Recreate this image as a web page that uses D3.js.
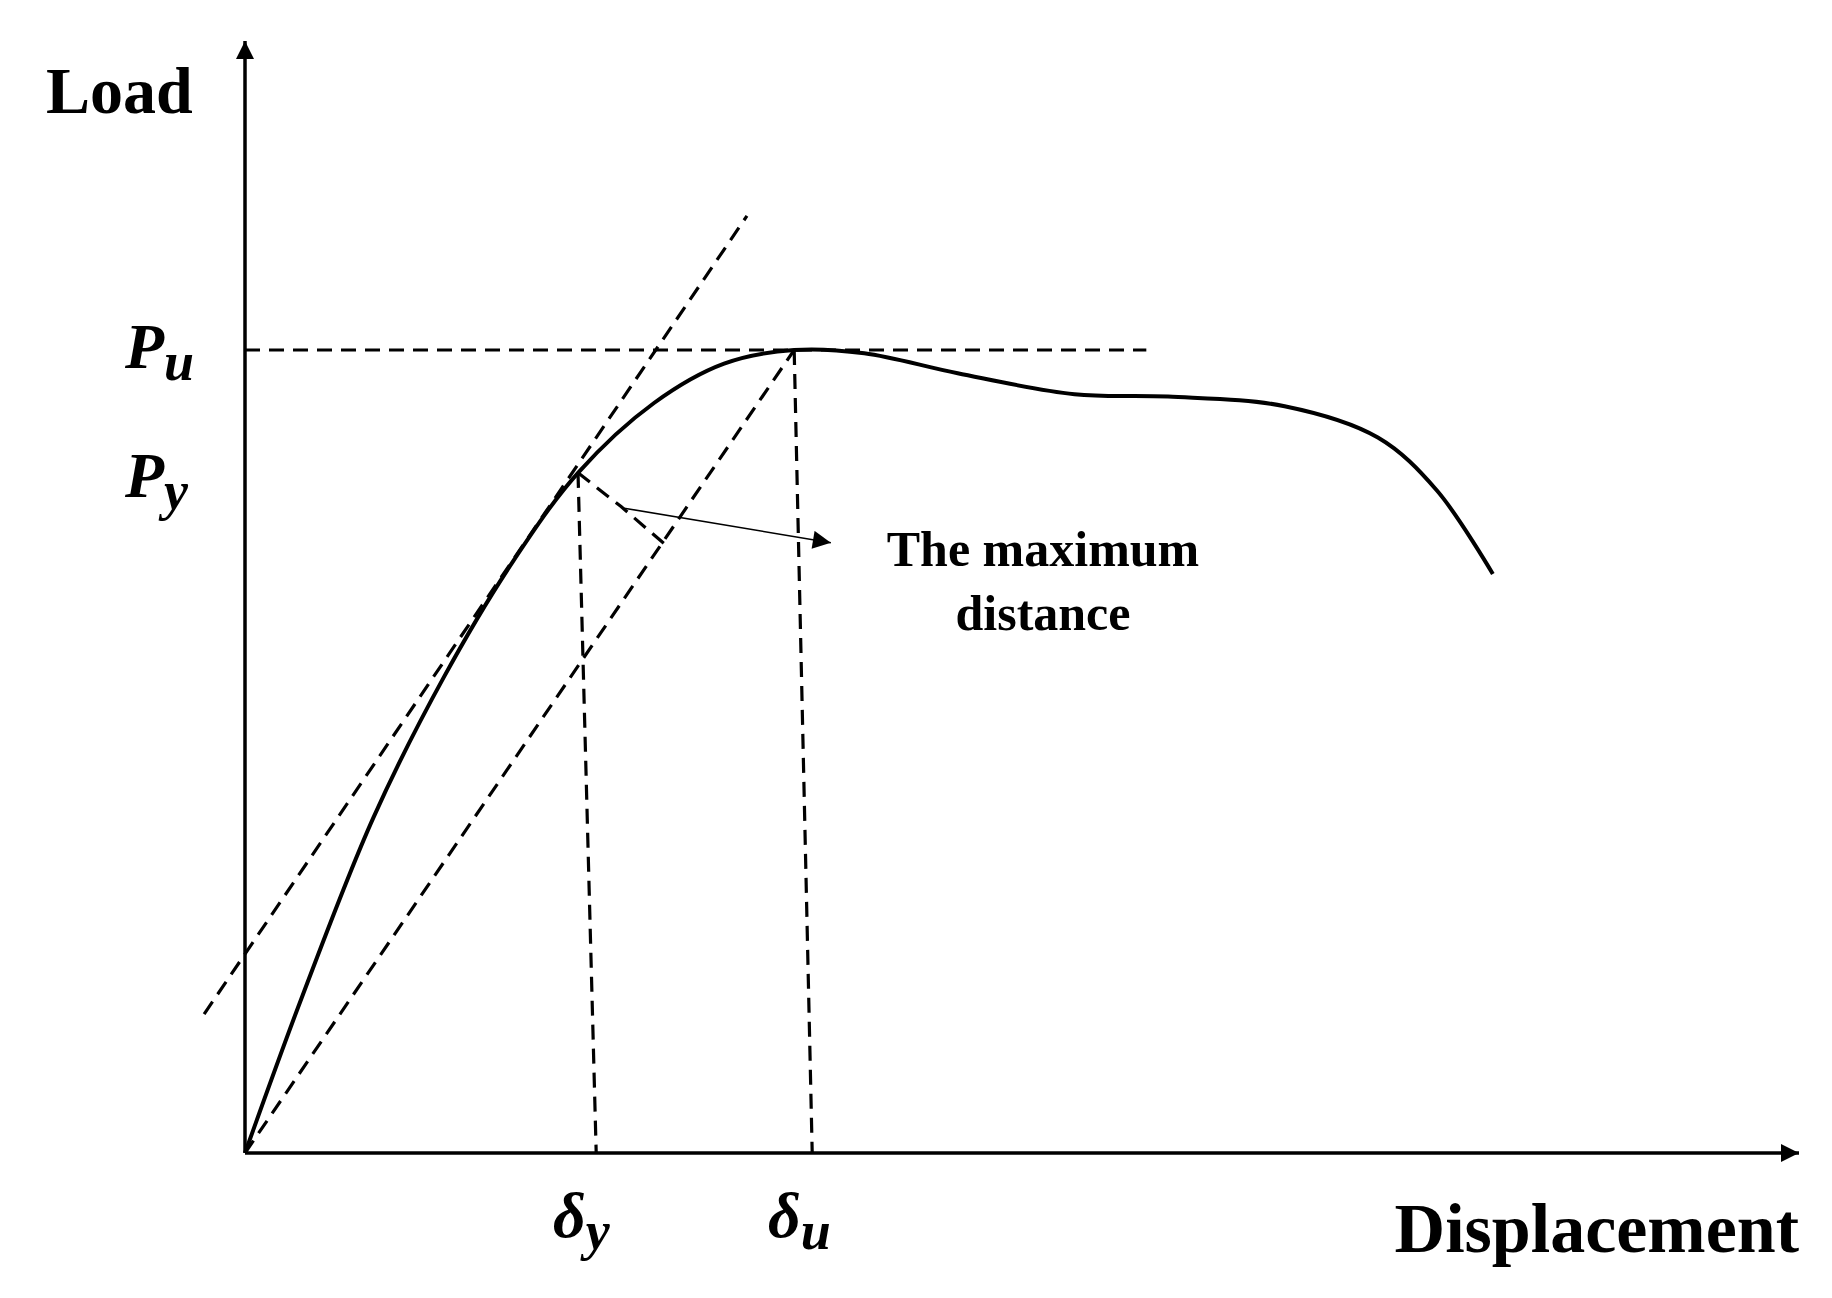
<!DOCTYPE html>
<html><head><meta charset="utf-8">
<script src="https://cdn.jsdelivr.net/npm/d3@7"></script>
<style>body{margin:0;background:#fff}text{font-family:"Liberation Serif","Times New Roman",serif;font-weight:bold}</style>
</head><body><svg id="c" width="1832" height="1298"></svg>
<script>
// displacement / load (load normalised: Pu = 100)
const curveX = [0, 3.76, 8.27, 12.78, 17.29, 21.43, 26.32, 30.83, 35.34, 39.85, 45.86, 53.38, 59.4, 66.9, 72.9, 76.7, 80.3];
const curveY = [0, 19.9, 41.8, 59.2, 73.8, 84.7, 93.4, 98.3, 100, 99.6, 97.1, 94.5, 94.2, 93.0, 89.1, 82.5, 72.1];
const tangentLine = [[-2.63, 17.3], [32.3, 116.7]];
const secantLine = [[0, 0], [35.34, 100]];
const puLine = [[0, 100], [58, 100]];
const dyLine = [[21.43, 84.7], [22.6, 0]];
const duLine = [[35.34, 100], [36.5, 0]];
const perpLine = [[21.43, 84.7], [24.2, 80.5], [27.2, 75.5]];
const arrowLine = [[24.4, 80.3], [37.7, 76.0]];

const svg = d3.select("#c");
const x = d3.scaleLinear().domain([0, 100]).range([245, 1799]);
const y = d3.scaleLinear().domain([0, 100]).range([1153, 350]);
const line = d3.line().x(d => x(d[0])).y(d => y(d[1]));

const defs = svg.append("defs");
defs.append("marker").attr("id","ah2").attr("viewBox","0 0 10 10").attr("refX",10).attr("refY",5)
  .attr("markerWidth",22).attr("markerHeight",18).attr("markerUnits","userSpaceOnUse").attr("orient","auto")
  .append("path").attr("d","M0,0L10,5L0,10Z").attr("fill","#000");

// axes
svg.append("line").attr("x1",x(0)).attr("y1",y(0)).attr("x2",x(0)).attr("y2",41)
  .attr("stroke","#000").attr("stroke-width",3.5).attr("marker-end","url(#ah2)");
svg.append("line").attr("x1",x(0)).attr("y1",y(0)).attr("x2",x(100)).attr("y2",y(0))
  .attr("stroke","#000").attr("stroke-width",3.5).attr("marker-end","url(#ah2)");

const dashed = (d) => svg.append("path").attr("d", line(d)).attr("fill","none")
  .attr("stroke","#000").attr("stroke-width",3.2).attr("stroke-dasharray","15,9");
[tangentLine, secantLine, puLine, dyLine, duLine, perpLine].forEach(dashed);

svg.append("path").attr("d", line.curve(d3.curveCatmullRom)(curveX.map((v,i)=>[v,curveY[i]])))
  .attr("fill","none").attr("stroke","#000").attr("stroke-width",4);
line.curve(d3.curveLinear);

svg.append("path").attr("d", line(arrowLine)).attr("stroke","#000").attr("stroke-width",1.6)
  .attr("marker-end","url(#ah2)");

// texts
svg.append("text").attr("x",46).attr("y",113).attr("font-size",66).text("Load");
svg.append("text").attr("x",1799).attr("y",1252).attr("text-anchor","end").attr("font-size",70).text("Displacement");
svg.append("text").attr("x",1043).attr("y",566).attr("text-anchor","middle").attr("font-size",50).text("The maximum");
svg.append("text").attr("x",1043).attr("y",630).attr("text-anchor","middle").attr("font-size",50).text("distance");

function sym(xp, yp, main, sub){
  const t = svg.append("text").attr("x",xp).attr("y",yp).attr("font-size",64).attr("font-style","italic");
  t.append("tspan").text(main);
  t.append("tspan").attr("dy",12).attr("font-size",54).text(sub);
}
sym(125, 368, "P", "u");
sym(125, 497, "P", "y");
sym(553, 1237, "δ", "y");
sym(768, 1237, "δ", "u");
</script></body></html>
